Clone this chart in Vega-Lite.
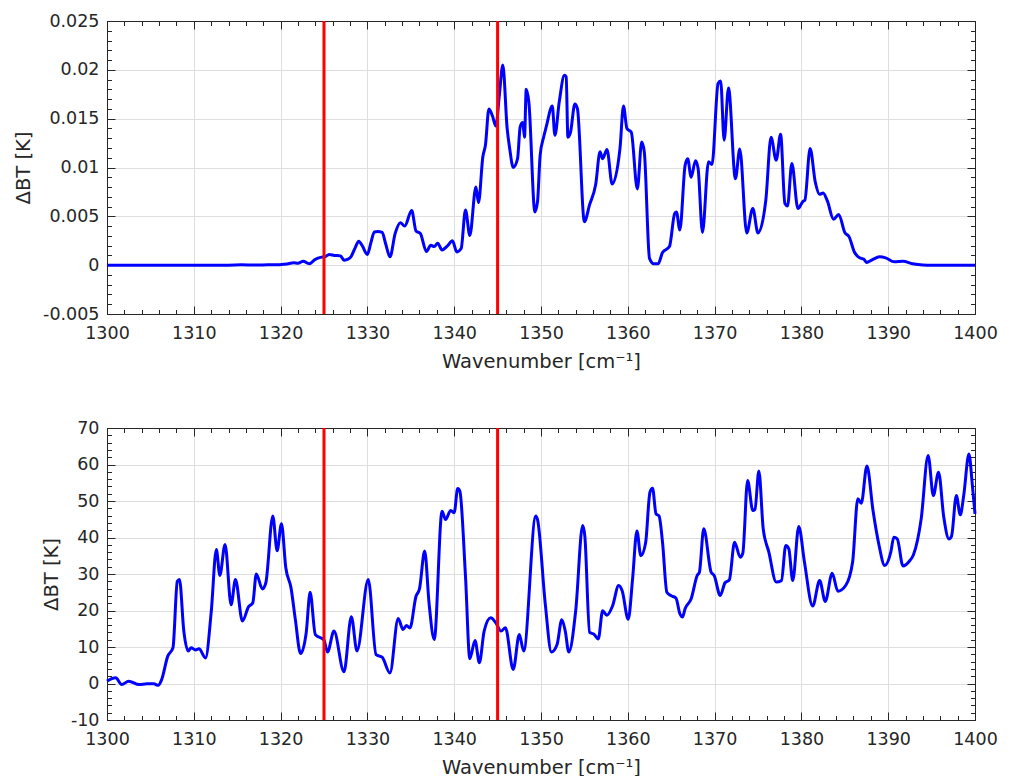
{
  "$schema": "https://vega.github.io/schema/vega-lite/v6.json",
  "padding": {"left": 13, "top": 11, "right": 5, "bottom": 0},
  "background": "white",
  "spacing": 46,
  "config": {
    "font": "DejaVu Sans",
    "view": {"stroke": "#262626", "strokeWidth": 1},
    "axis": {
      "labelColor": "#262626", "titleColor": "#262626", "domainColor": "#262626",
      "tickColor": "#262626", "gridColor": "#dedede", "gridWidth": 1,
      "labelFontSize": 17.5, "titleFontSize": 19.5, "titleFontWeight": "normal",
      "labelFont": "DejaVu Sans", "titleFont": "DejaVu Sans", "tickWidth": 1, "domainWidth": 1
    }
  },
  "datasets": {
    "vl": [{"x": 1325}, {"x": 1345}],
    "top": [
      {"x":1300,"y":0},{"x":1305,"y":0},{"x":1310,"y":0},{"x":1314,"y":0},{"x":1315.5,"y":0.00003},{"x":1317,"y":0.00001},{"x":1318.5,"y":0.00003},{"x":1319.5,"y":0.00004},
      {"x":1320.4,"y":0.0001},{"x":1320.9,"y":0.00015},{"x":1321.5,"y":0.00025},{"x":1322,"y":0.0002},{"x":1322.6,"y":0.0004},{"x":1323.3,"y":0.00015},{"x":1324,"y":0.0006},{"x":1324.6,"y":0.0008},
      {"x":1325.1,"y":0.00085},{"x":1325.6,"y":0.0011},{"x":1326.2,"y":0.001},{"x":1326.9,"y":0.00095},{"x":1327.3,"y":0.0005},{"x":1327.7,"y":0.0006},{"x":1328.1,"y":0.00085},{"x":1328.6,"y":0.0018},
      {"x":1329.0,"y":0.00245},{"x":1329.4,"y":0.002},{"x":1330.0,"y":0.0011},{"x":1330.4,"y":0.0023},{"x":1330.8,"y":0.0034},{"x":1331.2,"y":0.00345},{"x":1331.7,"y":0.00335},{"x":1332.1,"y":0.0022},
      {"x":1332.6,"y":0.00085},{"x":1333.2,"y":0.00325},{"x":1333.8,"y":0.00435},{"x":1334.3,"y":0.004},{"x":1335.1,"y":0.0056},{"x":1335.6,"y":0.0035},{"x":1336.1,"y":0.00325},{"x":1336.8,"y":0.0014},
      {"x":1337.3,"y":0.00205},{"x":1337.7,"y":0.0019},{"x":1338.1,"y":0.00225},{"x":1338.6,"y":0.00155},{"x":1339.2,"y":0.00195},{"x":1339.8,"y":0.0025},{"x":1340.3,"y":0.00135},{"x":1340.8,"y":0.0017},
      {"x":1341.3,"y":0.00565},{"x":1341.8,"y":0.00305},{"x":1342.5,"y":0.008},{"x":1342.8,"y":0.0064},{"x":1343.3,"y":0.0111},{"x":1343.6,"y":0.0123},{"x":1344.0,"y":0.016},{"x":1344.4,"y":0.0153},
      {"x":1344.8,"y":0.01425},{"x":1345.2,"y":0.0174},{"x":1345.6,"y":0.0205},{"x":1346.1,"y":0.014},{"x":1346.4,"y":0.0119},{"x":1346.8,"y":0.01},{"x":1347.3,"y":0.0109},{"x":1347.6,"y":0.01415},
      {"x":1347.9,"y":0.0146},{"x":1348.1,"y":0.0131},{"x":1348.3,"y":0.018},{"x":1348.6,"y":0.0167},{"x":1349.3,"y":0.00545},{"x":1349.6,"y":0.0065},{"x":1349.9,"y":0.01125},{"x":1350.3,"y":0.0131},
      {"x":1350.6,"y":0.01415},{"x":1351.3,"y":0.0163},{"x":1351.6,"y":0.0133},{"x":1352.1,"y":0.0167},{"x":1352.7,"y":0.01945},{"x":1352.9,"y":0.0193},{"x":1353.1,"y":0.0131},{"x":1353.4,"y":0.0136},
      {"x":1353.9,"y":0.0165},{"x":1354.2,"y":0.016},{"x":1355.0,"y":0.00445},{"x":1355.6,"y":0.0062},{"x":1356.3,"y":0.00825},{"x":1356.8,"y":0.0116},{"x":1357.1,"y":0.0109},{"x":1357.6,"y":0.01185},
      {"x":1358.2,"y":0.0083},{"x":1359.1,"y":0.01195},{"x":1359.5,"y":0.0163},{"x":1359.9,"y":0.014},{"x":1360.4,"y":0.0136},{"x":1361.1,"y":0.0078},{"x":1361.6,"y":0.0126},{"x":1361.9,"y":0.0116},
      {"x":1362.5,"y":0.0007},{"x":1363.0,"y":0.00015},{"x":1363.5,"y":0.00015},{"x":1364.0,"y":0.0013},{"x":1364.8,"y":0.0019},{"x":1365.4,"y":0.0053},{"x":1365.6,"y":0.00545},{"x":1366.0,"y":0.0036},
      {"x":1366.6,"y":0.0102},{"x":1366.9,"y":0.0109},{"x":1367.3,"y":0.009},{"x":1367.8,"y":0.0107},{"x":1368.1,"y":0.0099},{"x":1368.6,"y":0.00335},{"x":1369.3,"y":0.0106},{"x":1369.7,"y":0.0103},
      {"x":1370.4,"y":0.0186},{"x":1370.7,"y":0.01885},{"x":1371.1,"y":0.0128},{"x":1371.6,"y":0.01815},{"x":1372.4,"y":0.00885},{"x":1372.9,"y":0.0119},{"x":1373.7,"y":0.0033},{"x":1374.4,"y":0.0058},
      {"x":1375.0,"y":0.0033},{"x":1375.9,"y":0.00665},{"x":1376.5,"y":0.0131},{"x":1377.1,"y":0.01075},{"x":1377.6,"y":0.0134},{"x":1378.1,"y":0.0063},{"x":1378.4,"y":0.00605},{"x":1378.9,"y":0.0104},
      {"x":1379.6,"y":0.0058},{"x":1380.2,"y":0.00655},{"x":1380.4,"y":0.00665},{"x":1381.0,"y":0.01195},{"x":1381.6,"y":0.0085},{"x":1382.1,"y":0.00725},{"x":1382.5,"y":0.0074},{"x":1383.0,"y":0.00655},
      {"x":1383.7,"y":0.0047},{"x":1384.3,"y":0.0052},{"x":1385.0,"y":0.00335},{"x":1385.5,"y":0.0029},{"x":1386.1,"y":0.00135},{"x":1386.7,"y":0.00075},{"x":1387.2,"y":0.0006},{"x":1387.5,"y":0.00027},
      {"x":1388.2,"y":0.00057},{"x":1389.0,"y":0.00085},{"x":1389.7,"y":0.00075},{"x":1390.7,"y":0.00034},{"x":1391.7,"y":0.0004},{"x":1392.8,"y":0.00015},{"x":1394,"y":0.00002},{"x":1395,"y":0},{"x":1400,"y":0}
    ],
    "bot": [
      {"x":1300,"y":0.65},{"x":1301.0,"y":1.55},{"x":1301.7,"y":-0.3},{"x":1302.5,"y":0.65},{"x":1303.7,"y":-0.3},{"x":1304.6,"y":-0.1},{"x":1305.4,"y":-0.1},{"x":1305.9,"y":-0.5},
      {"x":1306.3,"y":1.1},{"x":1307.0,"y":7.5},{"x":1307.6,"y":9.8},{"x":1308.1,"y":28},{"x":1308.35,"y":28.5},{"x":1308.85,"y":14.35},{"x":1309.35,"y":8.9},{"x":1309.7,"y":9.8},
      {"x":1310.2,"y":9.2},{"x":1310.6,"y":9.5},{"x":1311.35,"y":7.0},{"x":1312.0,"y":19.4},{"x":1312.6,"y":36.7},{"x":1313.0,"y":29.6},{"x":1313.6,"y":38.1},{"x":1314.3,"y":21.6},
      {"x":1314.8,"y":28.5},{"x":1315.6,"y":17.1},{"x":1316.3,"y":21},{"x":1316.8,"y":22.1},{"x":1317.2,"y":30},{"x":1317.9,"y":25.9},{"x":1318.3,"y":27.6},{"x":1319.1,"y":45.9},
      {"x":1319.6,"y":36.4},{"x":1320.1,"y":43.8},{"x":1320.6,"y":31.7},{"x":1321.2,"y":26.2},{"x":1321.7,"y":17.5},{"x":1322.3,"y":8.2},{"x":1322.95,"y":13.9},{"x":1323.4,"y":25},
      {"x":1324.0,"y":13.4},{"x":1325.0,"y":11.9},{"x":1325.4,"y":8.6},{"x":1326.15,"y":14.35},{"x":1327.3,"y":3.2},{"x":1328.15,"y":18.3},{"x":1328.8,"y":8.9},{"x":1330.1,"y":28.5},
      {"x":1331.0,"y":7.9},{"x":1331.7,"y":7.2},{"x":1332.6,"y":2.9},{"x":1333.55,"y":17.8},{"x":1334.1,"y":14.8},{"x":1334.5,"y":15.9},{"x":1334.9,"y":15.2},{"x":1335.6,"y":23.9},
      {"x":1336.0,"y":25.9},{"x":1336.6,"y":36.3},{"x":1337.1,"y":22.1},{"x":1337.7,"y":12.05},{"x":1338.6,"y":47.2},{"x":1339.0,"y":44.9},{"x":1339.6,"y":47.4},{"x":1340.0,"y":46.8},
      {"x":1340.4,"y":53.4},{"x":1340.65,"y":52.7},{"x":1341.3,"y":29.4},{"x":1341.8,"y":6.8},{"x":1342.4,"y":11.8},{"x":1342.9,"y":5.7},{"x":1343.45,"y":14.35},{"x":1344.2,"y":18},
      {"x":1344.8,"y":16.6},{"x":1345.4,"y":14.35},{"x":1345.9,"y":15.3},{"x":1346.8,"y":3.85},{"x":1347.5,"y":13.4},{"x":1348.0,"y":8.9},{"x":1349.4,"y":45.9},{"x":1349.6,"y":44.9},
      {"x":1350.5,"y":21.6},{"x":1351.2,"y":8.6},{"x":1351.85,"y":10.7},{"x":1352.4,"y":17.5},{"x":1352.8,"y":14.3},{"x":1353.2,"y":8.6},{"x":1354.0,"y":20},{"x":1354.8,"y":43.3},
      {"x":1355.05,"y":40.4},{"x":1355.6,"y":14},{"x":1356.1,"y":13.5},{"x":1356.6,"y":12.2},{"x":1357.1,"y":19.9},{"x":1357.6,"y":18.7},{"x":1358.25,"y":21.3},{"x":1358.95,"y":26.85},
      {"x":1359.35,"y":25.4},{"x":1360.05,"y":17.6},{"x":1360.55,"y":28.6},{"x":1361.05,"y":41.8},{"x":1361.5,"y":35},{"x":1362.05,"y":38.5},{"x":1362.55,"y":52.4},{"x":1362.85,"y":53.5},
      {"x":1363.25,"y":46.5},{"x":1363.6,"y":45.9},{"x":1364.0,"y":38.7},{"x":1364.5,"y":25},{"x":1364.95,"y":24.1},{"x":1365.55,"y":23.4},{"x":1366.0,"y":19.1},{"x":1366.3,"y":18.2},
      {"x":1366.6,"y":20.5},{"x":1367.3,"y":23.2},{"x":1368.0,"y":29.6},{"x":1368.25,"y":30.5},{"x":1368.75,"y":42.4},{"x":1369.6,"y":30.5},{"x":1369.95,"y":29.6},{"x":1370.65,"y":24.1},
      {"x":1371.2,"y":27.6},{"x":1371.7,"y":28.4},{"x":1372.3,"y":38.7},{"x":1372.95,"y":34.6},{"x":1373.25,"y":35.7},{"x":1373.8,"y":55.6},{"x":1374.4,"y":47.4},{"x":1374.65,"y":47.7},
      {"x":1375.1,"y":58.2},{"x":1375.6,"y":42.4},{"x":1376.25,"y":36.0},{"x":1377.1,"y":27.8},{"x":1377.7,"y":28.2},{"x":1378.2,"y":37.8},{"x":1378.55,"y":36.9},{"x":1379.0,"y":28.2},
      {"x":1379.7,"y":43.0},{"x":1380.35,"y":33.3},{"x":1381.3,"y":21.2},{"x":1382.1,"y":28.2},{"x":1382.75,"y":22.5},{"x":1383.55,"y":30.2},{"x":1384.2,"y":25.3},{"x":1385.1,"y":26.85},
      {"x":1385.9,"y":33.3},{"x":1386.5,"y":50.6},{"x":1386.9,"y":49.4},{"x":1387.55,"y":59.6},{"x":1388.25,"y":47.4},{"x":1388.95,"y":37.8},{"x":1389.6,"y":32.3},{"x":1390.3,"y":36.0},
      {"x":1390.65,"y":40.1},{"x":1391.05,"y":39.6},{"x":1391.7,"y":32.2},{"x":1392.5,"y":33.7},{"x":1392.9,"y":35.2},{"x":1393.8,"y":45.1},{"x":1394.6,"y":62.5},{"x":1395.2,"y":51.5},
      {"x":1395.8,"y":57.9},{"x":1396.4,"y":45.6},{"x":1397.0,"y":39.6},{"x":1397.3,"y":40.4},{"x":1397.85,"y":51.5},{"x":1398.3,"y":46.2},{"x":1398.7,"y":51.5},{"x":1399.3,"y":62.9},
      {"x":1399.7,"y":54.2},{"x":1400,"y":46.5}
    ]
  },
  "vconcat": [
    {
      "width": 868, "height": 293,
      "data": {"name": "top"},
      "resolve": {"axis": {"x": "independent", "y": "independent"}},
      "layer": [
        {"mark": {"type": "line", "color": "#0000ff", "strokeWidth": 3, "interpolate": "monotone"},
         "encoding": {
           "x": {"field": "x", "type": "quantitative", "scale": {"domain": [1300, 1400], "nice": false, "zero": false},
                 "axis": {"orient": "bottom", "values": [1300,1310,1320,1330,1340,1350,1360,1370,1380,1390,1400], "ticks": false, "grid": true, "domain": true, "labelPadding": 10, "labelFlush": false, "labelOverlap": false, "format": "d", "title": "Wavenumber [cm⁻¹]", "titlePadding": 11}},
           "y": {"field": "y", "type": "quantitative", "scale": {"domain": [-0.005, 0.025], "nice": false, "zero": false},
                 "axis": {"orient": "left", "values": [-0.005,0,0.005,0.01,0.015,0.02,0.025], "ticks": false, "grid": true, "domain": true, "labelPadding": 8, "labelOverlap": false, "labelExpr": "replace(format(datum.value, '~g'), '\u2212', '-')", "title": "ΔBT [K]", "titlePadding": 9}}
         }},
        {"mark": {"type": "line", "opacity": 0},
         "encoding": {
           "x": {"field": "x", "type": "quantitative", "scale": {"domain": [1300, 1400], "nice": false, "zero": false},
                 "axis": {"orient": "bottom", "values": [1300,1310,1320,1330,1340,1350,1360,1370,1380,1390,1400], "labels": false, "grid": false, "domain": false, "ticks": true, "tickSize": -8, "title": null}},
           "y": {"field": "y", "type": "quantitative", "scale": {"domain": [-0.005, 0.025], "nice": false, "zero": false},
                 "axis": {"orient": "left", "values": [-0.005,0,0.005,0.01,0.015,0.02,0.025], "labels": false, "grid": false, "domain": false, "ticks": true, "tickSize": -8, "title": null}}
         }},
        {"mark": {"type": "line", "opacity": 0},
         "encoding": {
           "x": {"field": "x", "type": "quantitative", "scale": {"domain": [1300, 1400], "nice": false, "zero": false},
                 "axis": {"orient": "top", "values": [1300,1310,1320,1330,1340,1350,1360,1370,1380,1390,1400], "labels": false, "grid": false, "domain": true, "ticks": true, "tickSize": -8, "title": null}},
           "y": {"field": "y", "type": "quantitative", "scale": {"domain": [-0.005, 0.025], "nice": false, "zero": false},
                 "axis": {"orient": "right", "values": [-0.005,0,0.005,0.01,0.015,0.02,0.025], "labels": false, "grid": false, "domain": true, "ticks": true, "tickSize": -8, "title": null}}
         }},
        {"mark": {"type": "line", "opacity": 0},
         "encoding": {
           "x": {"field": "x", "type": "quantitative", "scale": {"domain": [1300, 1400], "nice": false, "zero": false},
                 "axis": {"orient": "bottom", "values": [1300,1302,1304,1306,1308,1310,1312,1314,1316,1318,1320,1322,1324,1326,1328,1330,1332,1334,1336,1338,1340,1342,1344,1346,1348,1350,1352,1354,1356,1358,1360,1362,1364,1366,1368,1370,1372,1374,1376,1378,1380,1382,1384,1386,1388,1390,1392,1394,1396,1398,1400], "labels": false, "grid": false, "domain": false, "ticks": true, "tickSize": -4.5, "title": null}},
           "y": {"field": "y", "type": "quantitative", "scale": {"domain": [-0.005, 0.025], "nice": false, "zero": false},
                 "axis": {"orient": "left", "values": [-0.005,-0.004,-0.003,-0.002,-0.001,0,0.001,0.002,0.003,0.004,0.005,0.006,0.007,0.008,0.009,0.01,0.011,0.012,0.013,0.014,0.015,0.016,0.017,0.018,0.019,0.02,0.021,0.022,0.023,0.024,0.025], "labels": false, "grid": false, "domain": false, "ticks": true, "tickSize": -4.5, "title": null}}
         }},
        {"mark": {"type": "line", "opacity": 0},
         "encoding": {
           "x": {"field": "x", "type": "quantitative", "scale": {"domain": [1300, 1400], "nice": false, "zero": false},
                 "axis": {"orient": "top", "values": [1300,1302,1304,1306,1308,1310,1312,1314,1316,1318,1320,1322,1324,1326,1328,1330,1332,1334,1336,1338,1340,1342,1344,1346,1348,1350,1352,1354,1356,1358,1360,1362,1364,1366,1368,1370,1372,1374,1376,1378,1380,1382,1384,1386,1388,1390,1392,1394,1396,1398,1400], "labels": false, "grid": false, "domain": false, "ticks": true, "tickSize": -4.5, "title": null}},
           "y": {"field": "y", "type": "quantitative", "scale": {"domain": [-0.005, 0.025], "nice": false, "zero": false},
                 "axis": {"orient": "right", "values": [-0.005,-0.004,-0.003,-0.002,-0.001,0,0.001,0.002,0.003,0.004,0.005,0.006,0.007,0.008,0.009,0.01,0.011,0.012,0.013,0.014,0.015,0.016,0.017,0.018,0.019,0.02,0.021,0.022,0.023,0.024,0.025], "labels": false, "grid": false, "domain": false, "ticks": true, "tickSize": -4.5, "title": null}}
         }},
        {"data": {"name": "vl"},
         "mark": {"type": "rule", "color": "#ff0000", "strokeWidth": 3},
         "encoding": {
           "x": {"field": "x", "type": "quantitative", "scale": {"domain": [1300, 1400], "nice": false, "zero": false}, "axis": null}
         }}
      ]
    },
    {
      "width": 868, "height": 292,
      "data": {"name": "bot"},
      "resolve": {"axis": {"x": "independent", "y": "independent"}},
      "layer": [
        {"mark": {"type": "line", "color": "#0000ff", "strokeWidth": 3, "interpolate": "monotone"},
         "encoding": {
           "x": {"field": "x", "type": "quantitative", "scale": {"domain": [1300, 1400], "nice": false, "zero": false},
                 "axis": {"orient": "bottom", "values": [1300,1310,1320,1330,1340,1350,1360,1370,1380,1390,1400], "ticks": false, "grid": true, "domain": true, "labelPadding": 10, "labelFlush": false, "labelOverlap": false, "format": "d", "title": "Wavenumber [cm⁻¹]", "titlePadding": 11}},
           "y": {"field": "y", "type": "quantitative", "scale": {"domain": [-10, 70], "nice": false, "zero": false},
                 "axis": {"orient": "left", "values": [-10,0,10,20,30,40,50,60,70], "ticks": false, "grid": true, "domain": true, "labelPadding": 8, "labelOverlap": false, "labelExpr": "replace(format(datum.value, 'd'), '\u2212', '-')", "title": "ΔBT [K]", "titlePadding": 9}}
         }},
        {"mark": {"type": "line", "opacity": 0},
         "encoding": {
           "x": {"field": "x", "type": "quantitative", "scale": {"domain": [1300, 1400], "nice": false, "zero": false},
                 "axis": {"orient": "bottom", "values": [1300,1310,1320,1330,1340,1350,1360,1370,1380,1390,1400], "labels": false, "grid": false, "domain": false, "ticks": true, "tickSize": -8, "title": null}},
           "y": {"field": "y", "type": "quantitative", "scale": {"domain": [-10, 70], "nice": false, "zero": false},
                 "axis": {"orient": "left", "values": [-10,0,10,20,30,40,50,60,70], "labels": false, "grid": false, "domain": false, "ticks": true, "tickSize": -8, "title": null}}
         }},
        {"mark": {"type": "line", "opacity": 0},
         "encoding": {
           "x": {"field": "x", "type": "quantitative", "scale": {"domain": [1300, 1400], "nice": false, "zero": false},
                 "axis": {"orient": "top", "values": [1300,1310,1320,1330,1340,1350,1360,1370,1380,1390,1400], "labels": false, "grid": false, "domain": true, "ticks": true, "tickSize": -8, "title": null}},
           "y": {"field": "y", "type": "quantitative", "scale": {"domain": [-10, 70], "nice": false, "zero": false},
                 "axis": {"orient": "right", "values": [-10,0,10,20,30,40,50,60,70], "labels": false, "grid": false, "domain": true, "ticks": true, "tickSize": -8, "title": null}}
         }},
        {"mark": {"type": "line", "opacity": 0},
         "encoding": {
           "x": {"field": "x", "type": "quantitative", "scale": {"domain": [1300, 1400], "nice": false, "zero": false},
                 "axis": {"orient": "bottom", "values": [1300,1302,1304,1306,1308,1310,1312,1314,1316,1318,1320,1322,1324,1326,1328,1330,1332,1334,1336,1338,1340,1342,1344,1346,1348,1350,1352,1354,1356,1358,1360,1362,1364,1366,1368,1370,1372,1374,1376,1378,1380,1382,1384,1386,1388,1390,1392,1394,1396,1398,1400], "labels": false, "grid": false, "domain": false, "ticks": true, "tickSize": -4.5, "title": null}},
           "y": {"field": "y", "type": "quantitative", "scale": {"domain": [-10, 70], "nice": false, "zero": false},
                 "axis": {"orient": "left", "values": [-10,-8,-6,-4,-2,0,2,4,6,8,10,12,14,16,18,20,22,24,26,28,30,32,34,36,38,40,42,44,46,48,50,52,54,56,58,60,62,64,66,68,70], "labels": false, "grid": false, "domain": false, "ticks": true, "tickSize": -4.5, "title": null}}
         }},
        {"mark": {"type": "line", "opacity": 0},
         "encoding": {
           "x": {"field": "x", "type": "quantitative", "scale": {"domain": [1300, 1400], "nice": false, "zero": false},
                 "axis": {"orient": "top", "values": [1300,1302,1304,1306,1308,1310,1312,1314,1316,1318,1320,1322,1324,1326,1328,1330,1332,1334,1336,1338,1340,1342,1344,1346,1348,1350,1352,1354,1356,1358,1360,1362,1364,1366,1368,1370,1372,1374,1376,1378,1380,1382,1384,1386,1388,1390,1392,1394,1396,1398,1400], "labels": false, "grid": false, "domain": false, "ticks": true, "tickSize": -4.5, "title": null}},
           "y": {"field": "y", "type": "quantitative", "scale": {"domain": [-10, 70], "nice": false, "zero": false},
                 "axis": {"orient": "right", "values": [-10,-8,-6,-4,-2,0,2,4,6,8,10,12,14,16,18,20,22,24,26,28,30,32,34,36,38,40,42,44,46,48,50,52,54,56,58,60,62,64,66,68,70], "labels": false, "grid": false, "domain": false, "ticks": true, "tickSize": -4.5, "title": null}}
         }},
        {"data": {"name": "vl"},
         "mark": {"type": "rule", "color": "#ff0000", "strokeWidth": 3},
         "encoding": {
           "x": {"field": "x", "type": "quantitative", "scale": {"domain": [1300, 1400], "nice": false, "zero": false}, "axis": null}
         }}
      ]
    }
  ]
}
